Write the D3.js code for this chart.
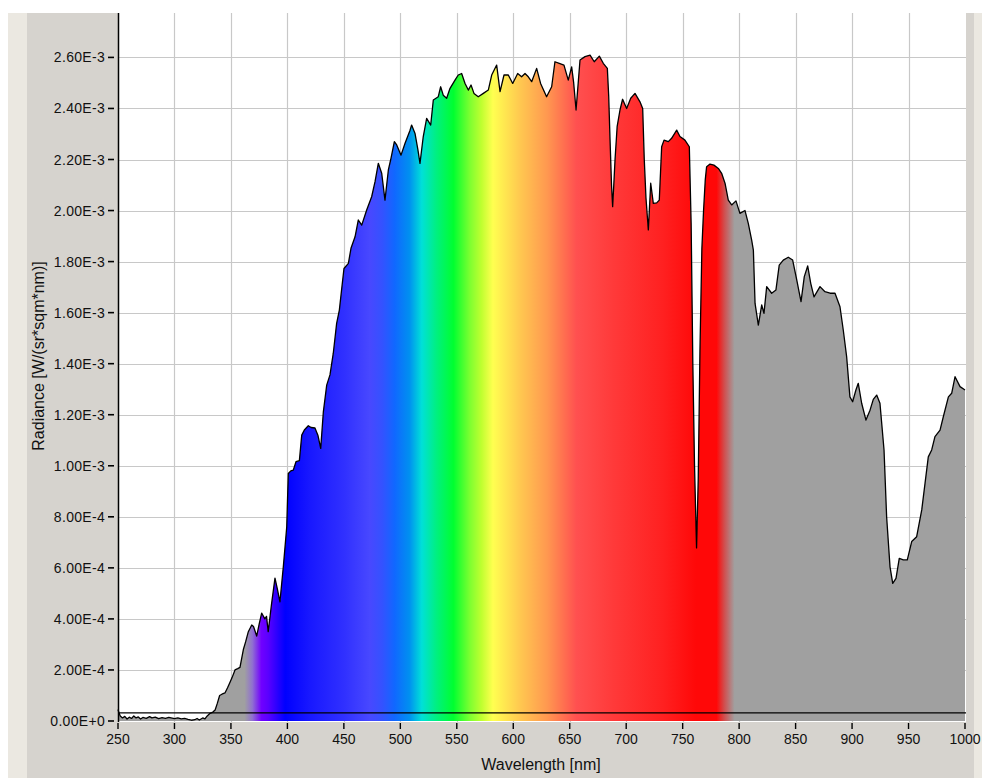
<!DOCTYPE html>
<html><head><meta charset="utf-8">
<script src="https://cdn.jsdelivr.net/npm/d3@7"></script>
<style>html,body{margin:0;padding:0;background:#fff;}svg{display:block;font-family:"Liberation Sans",Arial,sans-serif;}</style>
</head><body>
<svg id="c" width="982" height="778"></svg>
<script>
// Wavelength (nm) samples of the measured spectrum
const wavelength = [250,251,252,254,256,258,260,262,264,266,268,270,272,275,278,280,283,286,289,292,295,298,300,303,306,309,312,315,318,320,322,325,327,329,331.5,334,336,338,340,342,344.7,347,349,351,353.6,356,358,361,363,365.4,368.4,370,372.8,375,377.2,380,381.5,383,386,389,391,393.4,396.4,399.4,400.8,403,405.2,407.6,410.6,412.7,415,418.5,421,424.4,427,429.5,431.8,434.8,437.7,440.6,443.6,446,448,450.1,454,456.3,459.9,462.8,465.8,470.2,474.6,477.6,480.5,483.5,486.4,489.4,491.4,494.7,496.8,500.6,504.1,508.6,510,513,515.5,517.4,520.3,523.3,526.9,529.2,533.6,535.7,538,541,544,548.4,551.3,554.3,557.3,560.2,562.6,565.2,569,573.5,577.9,580.9,585.3,588.3,591.8,595.6,599.5,603.9,607.4,610.4,613.3,616.3,620.7,624.2,629.5,634,636.9,640.7,644.9,648.7,651.7,653.5,655.6,657.5,659.1,663.5,668,671.7,676.2,679.7,683.3,684.5,685.7,687,688,689,690.1,692,694.5,696.8,700.4,704,707.8,712.2,714.6,716,717.5,719.6,721.7,724,727,729.3,731.4,733.5,737.3,740.2,744.7,747.6,752,755.9,757.5,759,760.5,762.3,763.8,765.3,767,768.5,770,771.2,774.2,777.7,781.6,784.5,787.5,790.4,793.4,797.2,800.7,805.2,808.1,811.1,812.6,814.1,817,820,822,824.4,828.8,832.6,835.5,839.1,843.5,847.4,851,854.8,857.7,860.7,863.4,866.3,871.6,876,880.5,884.9,889.3,892.2,895.2,898.1,900.5,903.4,905.5,908.5,912.3,915.9,918.8,921.8,924.7,928.3,930.6,933.6,936,938.9,941.8,945.4,948.9,952.8,957.2,961.7,964.6,967.5,970.5,973.4,977.9,980.8,985.3,988.2,991.2,995.6,1000];
// Radiance in units of 1E-3 W/(sr*sqm*nm)
const radiance = [0.045,0.03,0.02,0.012,0.018,0.008,0.015,0.01,0.02,0.012,0.016,0.008,0.014,0.01,0.017,0.012,0.015,0.009,0.013,0.01,0.014,0.011,0.009,0.012,0.008,0.01,0.006,0.003,0.005,0.01,0.004,0.012,0.008,0.02,0.03,0.035,0.043,0.07,0.10,0.105,0.11,0.13,0.15,0.17,0.2,0.205,0.21,0.28,0.31,0.35,0.376,0.37,0.333,0.38,0.423,0.40,0.41,0.35,0.46,0.56,0.52,0.467,0.605,0.76,0.97,0.98,0.983,1.016,1.02,1.12,1.14,1.157,1.15,1.148,1.12,1.068,1.21,1.316,1.356,1.44,1.558,1.61,1.69,1.773,1.793,1.852,1.897,1.963,1.943,2.002,2.054,2.113,2.185,2.146,2.041,2.159,2.198,2.27,2.257,2.217,2.263,2.315,2.335,2.302,2.24,2.185,2.29,2.361,2.335,2.433,2.446,2.485,2.452,2.44,2.479,2.511,2.531,2.537,2.498,2.472,2.492,2.459,2.446,2.459,2.472,2.531,2.57,2.466,2.531,2.531,2.498,2.537,2.524,2.537,2.524,2.505,2.557,2.498,2.446,2.485,2.583,2.577,2.57,2.511,2.563,2.5,2.394,2.5,2.59,2.603,2.609,2.583,2.605,2.577,2.557,2.45,2.276,2.1,2.015,2.1,2.198,2.33,2.394,2.436,2.4,2.44,2.459,2.426,2.4,2.2,2.05,1.924,2.107,2.028,2.03,2.041,2.25,2.276,2.27,2.283,2.315,2.29,2.276,2.25,1.95,1.4,1.0,0.678,0.95,1.45,1.85,2.0,2.12,2.172,2.182,2.178,2.165,2.146,2.107,2.041,2.022,2.038,1.989,2.0,1.95,1.884,1.845,1.636,1.551,1.63,1.597,1.702,1.676,1.689,1.786,1.806,1.817,1.806,1.728,1.643,1.741,1.783,1.715,1.662,1.702,1.682,1.676,1.676,1.623,1.532,1.427,1.27,1.251,1.297,1.323,1.245,1.179,1.218,1.26,1.277,1.245,1.062,0.8,0.604,0.539,0.559,0.637,0.631,0.631,0.703,0.722,0.827,0.931,1.035,1.062,1.114,1.14,1.192,1.27,1.284,1.349,1.31,1.297];
// Reference (dark) level, same units
const baselineLevel = 0.032;
// Axis ticks
const xTicks = [250,300,350,400,450,500,550,600,650,700,750,800,850,900,950,1000];
const yTicks = [0,0.2,0.4,0.6,0.8,1.0,1.2,1.4,1.6,1.8,2.0,2.2,2.4,2.6];

// Spectral colour stops for the fill (wavelength, colour)
const spectrumStops = [
  [250,"#a0a0a0"],[362,"#a0a0a0"],[369,"#9070d0"],[377,"#7000ff"],[383,"#5a00ff"],
  [398,"#0000ff"],[420,"#1818ff"],[450,"#3030ff"],[473,"#4848ff"],[484,"#3452ff"],
  [495,"#1068ff"],[508,"#0090f0"],[519,"#00e0d8"],[532,"#00f080"],[547,"#00ff30"],
  [562,"#80ff30"],[572,"#c0ff30"],[582,"#ffff50"],[606,"#ffc850"],[630,"#ff9850"],
  [656,"#ff5050"],[688,"#ff3a3a"],[733,"#ff2020"],[762,"#ff0808"],[780,"#ff0808"],
  [787,"#d05050"],[796,"#a0a0a0"],[1000,"#a0a0a0"]
];

const svg = d3.select("#c");
const W = 982, H = 778;
const plot = {l:118, r:966, t:13, b:722};

// Window background
svg.append("rect").attr("width",W).attr("height",H).attr("fill","#d6d3ce");
svg.append("rect").attr("x",8).attr("y",13).attr("width",19).attr("height",H-13).attr("fill","#ebe8e1");
svg.append("rect").attr("x",974).attr("y",13).attr("width",8).attr("height",H-13).attr("fill","#ebe8e1");
svg.append("rect").attr("x",0).attr("y",0).attr("width",8).attr("height",H).attr("fill","#ffffff");
svg.append("rect").attr("x",0).attr("y",0).attr("width",W).attr("height",13).attr("fill","#ffffff");

const x = d3.scaleLinear().domain([250,1000]).range([118,965]);
const y = d3.scaleLinear().domain([0, 2.774]).range([721, 13]);

// Plot background
svg.append("rect").attr("x",plot.l).attr("y",plot.t).attr("width",plot.r-plot.l).attr("height",plot.b-plot.t).attr("fill","#ffffff");

// Grid
const grid = svg.append("g").attr("stroke","#c8c8c8").attr("stroke-width",1.2);
grid.selectAll("line.v").data(xTicks.filter(d=>d>250&&d<1000)).enter().append("line")
  .attr("x1",d=>Math.round(x(d))+0.5).attr("x2",d=>Math.round(x(d))+0.5).attr("y1",plot.t).attr("y2",plot.b);
grid.selectAll("line.h").data(yTicks.filter(d=>d>0)).enter().append("line")
  .attr("y1",d=>Math.round(y(d))+0.5).attr("y2",d=>Math.round(y(d))+0.5).attr("x1",plot.l).attr("x2",plot.r);

// Gradient
const defs = svg.append("defs");
const grad = defs.append("linearGradient").attr("id","spec").attr("gradientUnits","userSpaceOnUse")
  .attr("x1",x(250)).attr("x2",x(1000)).attr("y1",0).attr("y2",0);
grad.selectAll("stop").data(spectrumStops).enter().append("stop")
  .attr("offset",d=>(d[0]-250)/750).attr("stop-color",d=>d[1]);

const pts = wavelength.map((w,i)=>[w, radiance[i]]);
const area = d3.area().x(d=>x(d[0])).y0(y(0)).y1(d=>y(d[1]));
const line = d3.line().x(d=>x(d[0])).y(d=>y(d[1]));

svg.append("path").datum(pts).attr("d",area).attr("fill","url(#spec)");
svg.append("path").datum(pts).attr("d",line).attr("fill","none").attr("stroke","#000").attr("stroke-width",1.3).attr("stroke-linejoin","round");

// Baseline reference line
svg.append("line").attr("x1",plot.l).attr("x2",plot.r).attr("y1",y(baselineLevel)).attr("y2",y(baselineLevel))
  .attr("stroke","#000").attr("stroke-width",1.2);

// Y axis line
svg.append("line").attr("x1",118.5).attr("x2",118.5).attr("y1",plot.t).attr("y2",plot.b).attr("stroke","#000").attr("stroke-width",1.5);

// Y ticks & labels
const fmt = v => d3.format(".2e")(v*1e-3).toUpperCase();
const yt = svg.append("g");
yt.selectAll("line").data(yTicks).enter().append("line")
  .attr("x1",108).attr("x2",114).attr("y1",d=>y(d)).attr("y2",d=>y(d)).attr("stroke","#000").attr("stroke-width",1.6);
yt.selectAll("text").data(yTicks).enter().append("text")
  .attr("x",105).attr("y",d=>y(d)).attr("dy","0.36em").attr("text-anchor","end")
  .attr("font-size",14).attr("letter-spacing",0.3).attr("fill","#111").text(fmt);

// X ticks & labels
const xt = svg.append("g");
xt.selectAll("line").data(xTicks).enter().append("line")
  .attr("x1",d=>x(d)).attr("x2",d=>x(d)).attr("y1",723).attr("y2",729).attr("stroke","#000").attr("stroke-width",1.4);
xt.selectAll("text").data(xTicks).enter().append("text")
  .attr("x",d=>x(d)).attr("y",744).attr("text-anchor","middle")
  .attr("font-size",14).attr("fill","#111").text(d=>d);

// Axis titles
svg.append("text").attr("x",541).attr("y",770).attr("text-anchor","middle").attr("font-size",16).attr("fill","#111").text("Wavelength [nm]");
svg.append("text").attr("transform","translate(44,356) rotate(-90)").attr("text-anchor","middle").attr("font-size",16).attr("fill","#111").text("Radiance [W/(sr*sqm*nm)]");
</script>
</body></html>
